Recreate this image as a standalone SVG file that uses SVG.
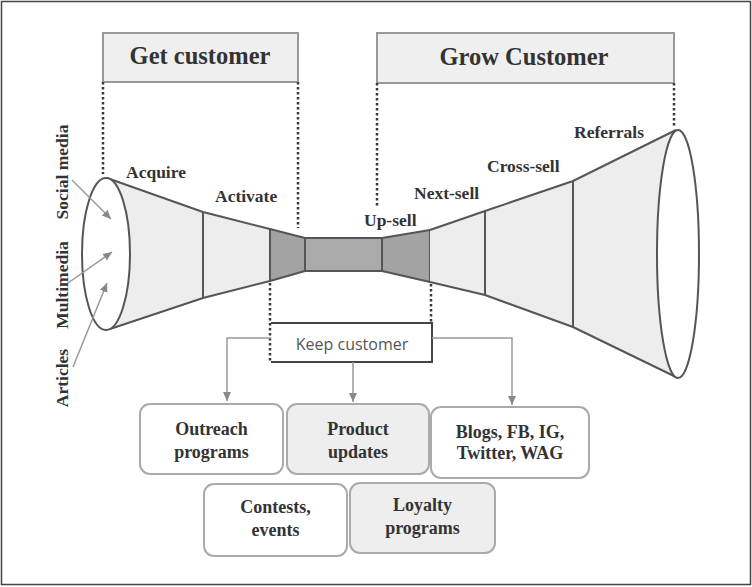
<svg xmlns="http://www.w3.org/2000/svg" width="752" height="587" viewBox="0 0 752 587">
<style>
.frame{fill:#fff;stroke:#444;stroke-width:1.5}
.hdr{fill:#efefef;stroke:#999;stroke-width:2}
.hdrt{font-family:"Liberation Serif",serif;font-weight:bold;font-size:24.5px;fill:#333;text-anchor:middle}
.lbl{font-family:"Liberation Serif",serif;font-weight:bold;font-size:17.5px;fill:#333}
.dot{fill:none;stroke:#3a3a3a;stroke-width:2.5;stroke-dasharray:2.5 2.5}
.fl{stroke:#555;stroke-width:2;stroke-linejoin:round}
.light{fill:#ededed}
.dark{fill:#a3a3a3}
.div{fill:none;stroke:#555;stroke-width:2}
.gl{fill:none;stroke:#999;stroke-width:1.5}
.box{stroke:#aaa;stroke-width:2}
.bt{font-family:"Liberation Serif",serif;font-weight:bold;font-size:18px;fill:#333;text-anchor:middle}
</style>
<defs>
<marker id="ah" markerUnits="userSpaceOnUse" markerWidth="10" markerHeight="10" viewBox="0 0 10 10" refX="9" refY="5" orient="auto">
<path d="M0,1 L9,5 L0,9 Z" fill="#888"/>
</marker>
</defs>
<rect class="frame" x="1.5" y="1.5" width="749" height="583"/>

<g id="get-customer">
<rect class="hdr" x="103" y="33" width="195" height="49"/>
<text class="hdrt" x="200" y="64">Get customer</text>
</g>
<g id="grow-customer">
<rect class="hdr" x="377" y="33" width="297" height="50"/>
<text class="hdrt" x="524" y="65">Grow Customer</text>
</g>

<g id="funnel">
<polygon class="light" points="107,178 203,212 203,298 110,329"/>
<polygon class="light" points="203,212 270,229 270,281 203,298"/>
<polygon class="dark fl" points="270,229 305,238 305,271 270,281"/>
<rect class="dark fl" x="305" y="238" width="77" height="33" style="fill:#aaa"/>
<polygon class="dark fl" points="382,238 430,230 430,282 382,271"/>
<polygon class="light" points="430,230 485,211 485,295 430,282"/>
<polygon class="light" points="485,211 573,181 573,327 485,295"/>
<polygon class="light" points="573,181 676,130 678,378 573,327"/>
<polyline class="div" points="107,178 203,212 270,229"/>
<polyline class="div" points="110,329 203,298 270,281"/>
<polyline class="div" points="430,230 485,211 573,181 676,130"/>
<polyline class="div" points="430,282 485,295 573,327 678,378"/>
<line class="div" x1="203" y1="212" x2="203" y2="298"/>
<line class="div" x1="485" y1="211" x2="485" y2="295"/>
<line class="div" x1="573" y1="181" x2="573" y2="327"/>
<ellipse cx="106" cy="254" rx="24" ry="76" fill="#fff" stroke="#555" stroke-width="2"/>
<ellipse cx="678" cy="254" rx="21" ry="124" fill="#fff" stroke="#555" stroke-width="2"/>
</g>

<g id="stage-labels">
<text class="lbl" x="126" y="178">Acquire</text>
<text class="lbl" x="215" y="202">Activate</text>
<text class="lbl" x="364" y="226">Up-sell</text>
<text class="lbl" x="414" y="199">Next-sell</text>
<text class="lbl" x="487" y="172">Cross-sell</text>
<text class="lbl" x="574" y="138">Referrals</text>
</g>

<g id="source-labels">
<text class="lbl" transform="translate(68,172) rotate(-90)" text-anchor="middle">Social media</text>
<text class="lbl" transform="translate(68,285) rotate(-90)" text-anchor="middle">Multimedia</text>
<text class="lbl" transform="translate(68,378) rotate(-90)" text-anchor="middle">Articles</text>
</g>

<g id="keep-customer">
<path d="M271,323 H432 V362 H271" fill="#fff" stroke="#444" stroke-width="2"/>
<text x="352" y="350" font-family="'Open Sans',sans-serif" font-size="16" fill="#555" text-anchor="middle">Keep customer</text>
</g>

<g id="outreach">
<rect class="box" x="140" y="404" width="143" height="70" rx="10" fill="#fff"/>
<text class="bt" x="211.5" y="435">Outreach</text>
<text class="bt" x="211.5" y="458">programs</text>
</g>
<g id="product-updates">
<rect class="box" x="287" y="404" width="142" height="70" rx="10" fill="#eeeeee"/>
<text class="bt" x="358" y="435">Product</text>
<text class="bt" x="358" y="458">updates</text>
</g>
<g id="blogs">
<rect class="box" x="431" y="407" width="158" height="71" rx="10" fill="#fff"/>
<text class="bt" x="510" y="438">Blogs, FB, IG,</text>
<text class="bt" x="510" y="459">Twitter, WAG</text>
</g>
<g id="contests">
<rect class="box" x="204" y="484" width="143" height="72" rx="10" fill="#fff"/>
<text class="bt" x="275.5" y="513">Contests,</text>
<text class="bt" x="275.5" y="536">events</text>
</g>
<g id="loyalty">
<rect class="box" x="350" y="483" width="145" height="70" rx="10" fill="#eeeeee"/>
<text class="bt" x="422.5" y="511">Loyalty</text>
<text class="bt" x="422.5" y="534">programs</text>
</g>

<g id="connectors">
<line class="dot" x1="103" y1="82" x2="103" y2="174"/>
<line class="dot" x1="298" y1="82" x2="298" y2="228"/>
<line class="dot" x1="377" y1="83" x2="377" y2="207"/>
<line class="dot" x1="674" y1="83" x2="674" y2="126"/>
<line class="dot" x1="270" y1="283" x2="270" y2="362"/>
<line class="dot" x1="431" y1="284" x2="431" y2="323"/>
<polyline class="gl" points="271,338 227,338 227,401" marker-end="url(#ah)"/>
<line class="gl" x1="353" y1="362" x2="353" y2="402" marker-end="url(#ah)"/>
<polyline class="gl" points="432,338 512,338 512,405" marker-end="url(#ah)"/>
<line class="gl" x1="72" y1="180" x2="111" y2="219" marker-end="url(#ah)"/>
<line class="gl" x1="68" y1="283" x2="112" y2="252" marker-end="url(#ah)"/>
<line class="gl" x1="73" y1="367" x2="107" y2="283" marker-end="url(#ah)"/>
</g>
</svg>
